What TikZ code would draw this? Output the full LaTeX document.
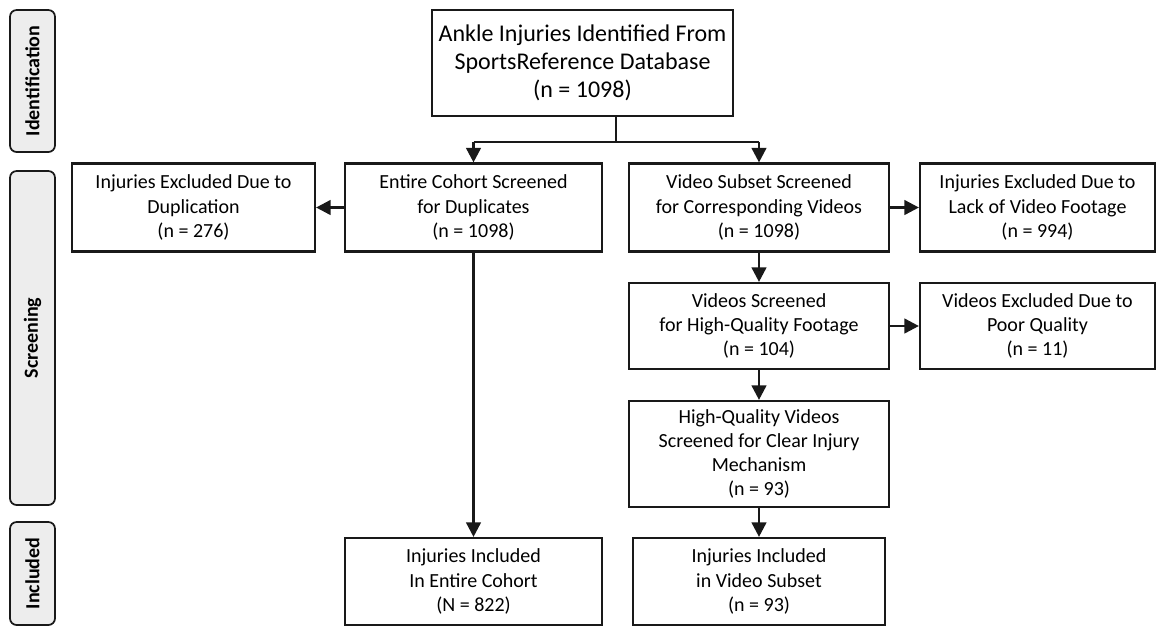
\documentclass[tikz,border=0pt]{standalone}
\usepackage{fontspec}
\setmainfont{Carlito}
\usetikzlibrary{positioning, arrows.meta}

\begin{document}
\begin{tikzpicture}[
  x=0.75pt, y=-0.75pt,
  every node/.style={inner sep=2pt},
  wd/.style={minimum width=#1*0.75pt},
  ht/.style={minimum height=#1*0.75pt},
  box/.style={
    draw=black!90, line width=1.6pt, rectangle, align=center,
    font=\fontsize{15}{18.2}\selectfont, ht=88,
  },
  topbox/.style={
    box, font=\fontsize{18}{21}\selectfont, wd=301, ht=106,
  },
  phase/.style={
    draw=black!90, line width=1.3pt, fill=black!7, rounded corners=5pt,
    rotate=90, ht=45, font=\bfseries\fontsize{15}{18}\selectfont,
  },
  arr/.style={-{Triangle[length=11pt,width=11pt]}, line width=2pt, draw=black!90},
  link/.style={line width=0.8pt, draw=black!90},
]
\useasboundingbox (0,0) rectangle (1157,626);

% ── Row y-positions (px from top) ──────────────────────────────────
\def\rTop{63}
\def\rA{207.5}
\def\rB{326}
\def\rC{454}
\def\rD{581.5}

% ── Column x-positions ─────────────────────────────────────────────
\def\cExc{193.5}
\def\cCoh{473.5}
\def\cTop{582.5}
\def\cVid{759}
\def\cOut{1037.5}

% ── Phase labels (left margin) ─────────────────────────────────────
\node[phase, wd=142] (pIdent)  at (32.5,81)    {Identification};
\node[phase, wd=334] (pScreen) at (32.5,338)   {Screening};
\node[phase, wd=103] (pIncl)   at (32.5,573.5) {Included};

% ── Identification ─────────────────────────────────────────────────
\node[topbox] (ident) at (\cTop,\rTop)
  {Ankle Injuries Identified From\\SportsReference Database\\(n = 1098)};

% ── Screening: entire cohort branch ────────────────────────────────
\node[box, wd=243] (dupOut) at (\cExc,\rA)
  {Injuries Excluded Due to\\Duplication\\(n = 276)};
\node[box, wd=257] (cohort) at (\cCoh,\rA)
  {Entire Cohort Screened\\for Duplicates\\(n = 1098)};

% ── Screening: video subset branch ─────────────────────────────────
\node[box, wd=260] (video) at (\cVid,\rA)
  {Video Subset Screened\\for Corresponding Videos\\(n = 1098)};
\node[box, wd=235] (lackOut) at (\cOut,\rA)
  {Injuries Excluded Due to\\Lack of Video Footage\\(n = 994)};
\node[box, wd=260, ht=86] (quality) at (\cVid,\rB)
  {Videos Screened\\for High-Quality Footage\\(n = 104)};
\node[box, wd=235, ht=86] (poorOut) at (\cOut,\rB)
  {Videos Excluded Due to\\Poor Quality\\(n = 11)};
\node[box, wd=260, ht=106] (mech) at (\cVid,\rC)
  {High-Quality Videos\\Screened for Clear Injury\\Mechanism\\(n = 93)};

% ── Included ───────────────────────────────────────────────────────
\node[box, wd=257, ht=87] (inCohort) at (\cCoh,\rD)
  {Injuries Included\\In Entire Cohort\\(N = 822)};
\node[box, wd=252, ht=87] (inVideo) at (\cVid,\rD)
  {Injuries Included\\in Video Subset\\(n = 93)};

% ── Split from the identified set ──────────────────────────────────
\coordinate (fork) at (616,142);
\draw[link] (fork |- ident.south) -- (fork);
\draw[link] (cohort.north |- fork) -- (video.north |- fork);
\draw[arr] (cohort.north |- fork) -- (cohort.north);
\draw[arr] (video.north |- fork) -- (video.north);

% ── Exclusions and downstream steps ────────────────────────────────
\draw[arr] (cohort.west)  -- (dupOut.east);
\draw[arr] (video.east)   -- (lackOut.west);
\draw[arr] (quality.east) -- (poorOut.west);
\draw[arr] (video.south)  -- (quality.north);
\draw[arr] (quality.south) -- (mech.north);
\draw[arr] (mech.south)   -- (inVideo.north);
\draw[arr] (cohort.south) -- (inCohort.north);

\end{tikzpicture}
\end{document}
